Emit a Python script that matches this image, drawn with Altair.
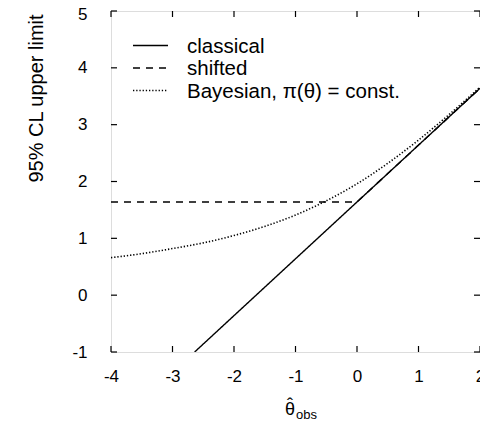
import altair as alt
import pandas as pd

# ---- data ----
x_ticks = [-4, -3, -2, -1, 0, 1, 2]
y_ticks = [-1, 0, 1, 2, 3, 4, 5]

classical_x = [-2.64, 0.0, 2.0]
classical_y = [-1.0, 1.64, 3.64]

shifted_x = [-4.0, -2.0, 0.0, 2.0]
shifted_y = [1.64, 1.64, 1.64, 3.64]

bayes_x = [-4.0, -3.5, -3.0, -2.5, -2.0, -1.5, -1.0, -0.5, 0.0, 0.5, 1.0, 1.5, 2.0]
bayes_y = [0.66, 0.73, 0.82, 0.92, 1.05, 1.21, 1.41, 1.66, 1.96, 2.32, 2.73, 3.18, 3.66]

series_names = ["classical", "shifted", "Bayesian, π(θ) = const."]
dash_styles = [[1, 0], [7, 6], [1.3, 1.9]]

def frame(xs, ys, name):
    return pd.DataFrame({"x": xs, "y": ys, "series": [name] * len(xs)})

df_lin = pd.concat([frame(classical_x, classical_y, series_names[0]),
                    frame(shifted_x, shifted_y, series_names[1])])
df_bay = frame(bayes_x, bayes_y, series_names[2])

W, H = 369, 341
FONT = "Liberation Sans"

xscale = alt.Scale(domain=[-4, 2], nice=False, zero=False)
yscale = alt.Scale(domain=[-1, 5], nice=False, zero=False)
neg = "datum.value < 0 ? '-' + (-datum.value) : '' + datum.value"

xaxis = alt.Axis(values=x_ticks, ticks=False, tickSize=0, domain=False, grid=False,
                 labelFontSize=17, labelFont=FONT, labelColor="black", labelPadding=16,
                 labelFlush=False, labelExpr=neg, title=None)
yaxis = alt.Axis(values=y_ticks, ticks=False, tickSize=0, domain=False, grid=False,
                 labelFontSize=17, labelFont=FONT, labelColor="black", labelPadding=24,
                 labelFlush=False, labelExpr=neg,
                 labelOffset={"condition": {"test": "datum.value == 5", "value": 3}, "value": 0},
                 title="95% CL upper limit", titleFont=FONT,
                 titleFontSize=20, titleFontWeight="normal", titleColor="black",
                 titleAngle=270, titleAlign="center", titleBaseline="alphabetic",
                 titleX=-69, titleY=87)

X = alt.X("x:Q", scale=xscale, axis=xaxis)
Y = alt.Y("y:Q", scale=yscale, axis=yaxis)

dash = alt.StrokeDash("series:N",
                      scale=alt.Scale(domain=series_names, range=dash_styles),
                      legend=None)

lines = alt.Chart(df_lin).mark_line(color="black", strokeWidth=1.4, clip=True).encode(
    x=X, y=Y, strokeDash=dash)
bayes = alt.Chart(df_bay).mark_line(color="black", strokeWidth=1.6, clip=True,
                                    interpolate="monotone").encode(
    x=X, y=Y, strokeDash=dash)

ydf = pd.DataFrame({"y": y_ticks})
xdf = pd.DataFrame({"x": x_ticks})
left_t = alt.Chart(ydf).mark_rule(color="black", strokeWidth=1.2).encode(
    y=Y, x=alt.value(0), x2=alt.value(6))
right_t = alt.Chart(ydf).mark_rule(color="black", strokeWidth=1.2).encode(
    y=Y, x=alt.value(W - 6), x2=alt.value(W))
bot_t = alt.Chart(xdf).mark_rule(color="black", strokeWidth=1.2).encode(
    x=X, y=alt.value(H), y2=alt.value(H - 6))
top_t = alt.Chart(xdf).mark_rule(color="black", strokeWidth=1.2).encode(
    x=X, y=alt.value(0), y2=alt.value(6))

# manual legend (upper left, inside the frame)
legend_layers = []
for i, (name, d) in enumerate(zip(series_names, dash_styles)):
    ypx = 34.5 + 22.5 * i
    ldf = pd.DataFrame({"label": [name]})
    legend_layers.append(
        alt.Chart(ldf).mark_rule(color="black", strokeWidth=1.3, strokeDash=d).encode(
            x=alt.value(22), x2=alt.value(57), y=alt.value(ypx)))
    legend_layers.append(
        alt.Chart(ldf).mark_text(font=FONT, fontSize=20.5, color="black", align="left",
                                 baseline="middle").encode(
            text="label:N", x=alt.value(76), y=alt.value(ypx + 1)))

# x-axis title: theta-hat with subscript "obs"
t1 = alt.Chart(pd.DataFrame({"t": ["θ"]})).mark_text(
    font=FONT, fontSize=18, color="black", align="center", baseline="alphabetic").encode(
    text="t:N", x=alt.value(179), y=alt.value(404))
t2 = alt.Chart(pd.DataFrame({"t": ["ˆ"]})).mark_text(
    font=FONT, fontSize=18, color="black", align="center", baseline="alphabetic").encode(
    text="t:N", x=alt.value(179), y=alt.value(400))
t3 = alt.Chart(pd.DataFrame({"t": ["obs"]})).mark_text(
    font=FONT, fontSize=13, color="black", align="left", baseline="alphabetic").encode(
    text="t:N", x=alt.value(185), y=alt.value(408))

chart = alt.layer(lines, bayes, left_t, right_t, bot_t, top_t, *legend_layers,
                  t1, t2, t3).properties(
    width=W, height=H,
    autosize=alt.AutoSizeParams(type="none"),
    padding={"left": 103, "top": 3, "right": 0, "bottom": 70},
).configure_view(stroke="black", strokeWidth=1.3).configure(background="white")

chart.save("out.html", embed_options={"renderer": "svg", "actions": False})
